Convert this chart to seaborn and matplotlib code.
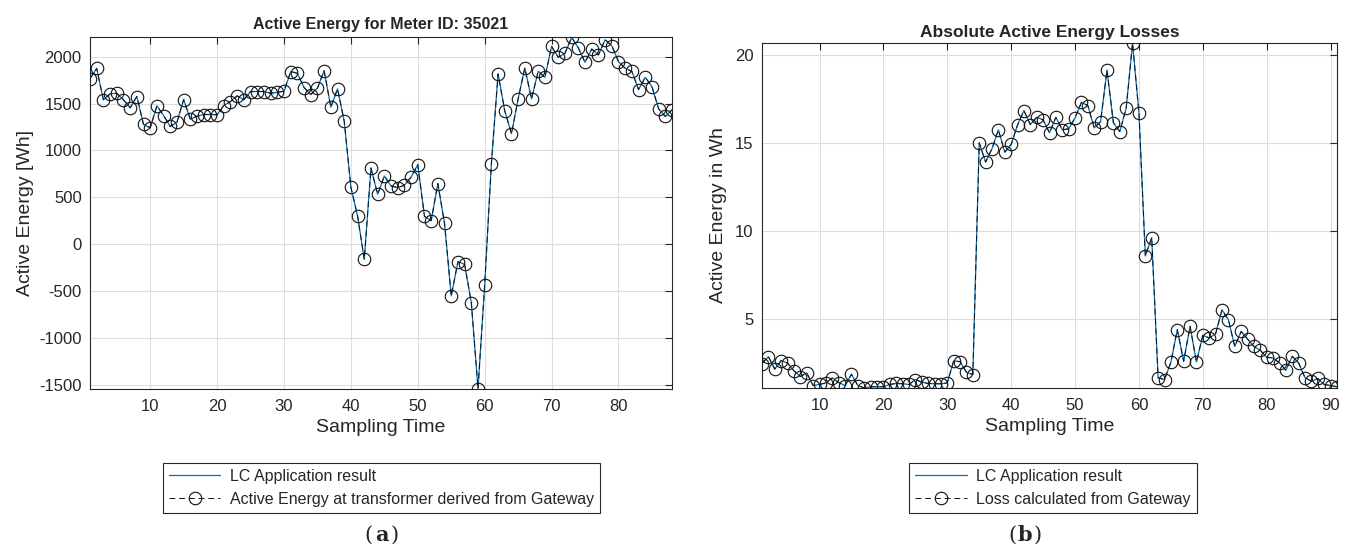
import numpy as np
import pandas as pd
import matplotlib
matplotlib.use("Agg")
import matplotlib.pyplot as plt
import seaborn as sns

# ---------------- data ----------------
meter_energy = [1765, 1875, 1540, 1603, 1610, 1540, 1455, 1575, 1277, 1241,
                1476, 1372, 1255, 1301, 1543, 1333, 1365, 1383, 1383, 1380,
                1479, 1521, 1582, 1540, 1628, 1628, 1628, 1610, 1620, 1631,
                1841, 1823, 1670, 1596, 1665, 1851, 1461, 1657, 1312, 606,
                300, -163, 812, 532, 727, 620, 603, 628, 716, 848,
                296, 250, 646, 220, -553, -188, -216, -624, -1543, -436,
                859, 1816, 1422, 1178, 1550, 1880, 1550, 1844, 1780, 2110,
                1993, 2036, 2205, 2093, 1940, 2082, 2018, 2181, 2117, 1947,
                1876, 1844, 1649, 1780, 1681, 1444, 1362, 1433]

losses = [2.47, 2.86, 2.15, 2.64, 2.49, 2.06, 1.73, 1.94, 1.22, 1.28,
          1.37, 1.65, 1.39, 1.22, 1.86, 1.22, 1.08, 1.15, 1.15, 1.15,
          1.28, 1.34, 1.32, 1.28, 1.56, 1.41, 1.34, 1.32, 1.32, 1.37,
          2.62, 2.58, 1.97, 1.84, 15.00, 13.91, 14.67, 15.74, 14.47, 14.91,
          16.02, 16.83, 16.04, 16.45, 16.31, 15.57, 16.45, 15.74, 15.80, 16.42,
          17.30, 17.12, 15.85, 16.21, 19.13, 16.14, 15.64, 16.96, 20.66, 16.70,
          8.58, 9.62, 1.66, 1.56, 2.54, 4.39, 2.60, 4.58, 2.56, 4.07,
          3.92, 4.16, 5.52, 4.96, 3.44, 4.29, 3.86, 3.44, 3.22, 2.82,
          2.79, 2.50, 2.09, 2.88, 2.50, 1.66, 1.47, 1.62, 1.28, 1.22,
          1.15]

left_xticks = [10, 20, 30, 40, 50, 60, 70, 80]
left_yticks = [-1500, -1000, -500, 0, 500, 1000, 1500, 2000]
right_xticks = [10, 20, 30, 40, 50, 60, 70, 80, 90]
right_yticks = [5, 10, 15, 20]

label_lc = "LC Application result"
label_a = "Active Energy at transformer derived from Gateway"
label_b = "Loss calculated from Gateway"

df_a = pd.DataFrame({"t": np.arange(1, len(meter_energy) + 1), "v": meter_energy})
df_b = pd.DataFrame({"t": np.arange(1, len(losses) + 1), "v": losses})

# ---------------- style ----------------
sns.set_theme(style="white")
plt.rcParams["font.family"] = ["Liberation Sans", "DejaVu Sans"]
plt.rcParams["axes.unicode_minus"] = False
plt.rcParams["axes.edgecolor"] = "#262626"
plt.rcParams["axes.linewidth"] = 0.8

fig = plt.figure(figsize=(13.49, 5.46), dpi=100)
ax1 = fig.add_axes([90 / 1349, 1 - 389 / 546, (672 - 90) / 1349, (389 - 37) / 546])
ax2 = fig.add_axes([762 / 1349, 1 - 388 / 546, (1337 - 762) / 1349, (388 - 43) / 546])

BLUE = "#0072BD"
DARK = "#262626"


def draw(ax, df, lab2):
    sns.lineplot(data=df, x="t", y="v", ax=ax, color=BLUE, linewidth=0.9,
                 label=label_lc, zorder=2)
    sns.lineplot(data=df, x="t", y="v", ax=ax, color="#111111", linewidth=0.7,
                 linestyle=(0, (6, 4)), marker="o", markersize=9,
                 markerfacecolor="none", markeredgecolor="#111111",
                 markeredgewidth=0.8, label=lab2, zorder=3)
    ax.grid(True, color="#dddddd", linewidth=0.8)
    ax.set_axisbelow(True)
    ax.tick_params(direction="in", length=5, width=0.8, top=True, right=True,
                   labelsize=12, colors=DARK)
    ax.tick_params(axis="x", pad=7)
    ax.tick_params(axis="y", pad=6)
    for s in ax.spines.values():
        s.set_visible(True)
        s.set_color(DARK)
    ax.set_xlabel("Sampling Time", fontsize=14, color=DARK, labelpad=4)


draw(ax1, df_a, label_a)
ax1.set_xlim(1, len(meter_energy))
ax1.set_ylim(min(meter_energy) - 3, max(meter_energy) + 5)
ax1.set_xticks(left_xticks)
ax1.set_yticks(left_yticks)
ax1.set_ylabel("Active Energy [Wh]", fontsize=14, color=DARK, labelpad=4)
ax1.set_title("Active Energy for Meter ID: 35021", fontsize=11.5,
              fontweight="bold", pad=6)

draw(ax2, df_b, label_b)
ax2.set_xlim(1, len(losses))
ax2.set_ylim(min(losses), max(losses) + 0.01)
ax2.set_xticks(right_xticks)
ax2.set_yticks(right_yticks)
ax2.set_ylabel("Active Energy in Wh", fontsize=14, color=DARK, labelpad=6)
ax2.set_title("Absolute Active Energy Losses", fontsize=12.5,
              fontweight="bold", pad=4)

for ax, cx in ((ax1, 381.5 / 1349), (ax2, 1053 / 1349)):
    h, l = ax.get_legend_handles_labels()
    ax.legend(h, l, loc="center", bbox_to_anchor=(cx, 1 - 488 / 546),
              bbox_transform=fig.transFigure, fancybox=False, framealpha=1,
              edgecolor=DARK, fontsize=11.5, handlelength=3.2,
              borderpad=0.4, labelspacing=0.5, handletextpad=0.6,
              borderaxespad=0)
    ax.get_legend().get_frame().set_linewidth(0.8)

for txt, cx in (("a", 381.5 / 1349), ("b", 1025 / 1349)):
    y = 1 - 535 / 546
    fig.text(cx - 0.0095, y, "(", fontsize=15, family="DejaVu Serif",
             ha="center", va="center")
    fig.text(cx, y, txt, fontsize=15, family="DejaVu Serif",
             fontweight="bold", ha="center", va="center")
    fig.text(cx + 0.0095, y, ")", fontsize=15, family="DejaVu Serif",
             ha="center", va="center")

fig.savefig("out.png", dpi=100, facecolor="white")
